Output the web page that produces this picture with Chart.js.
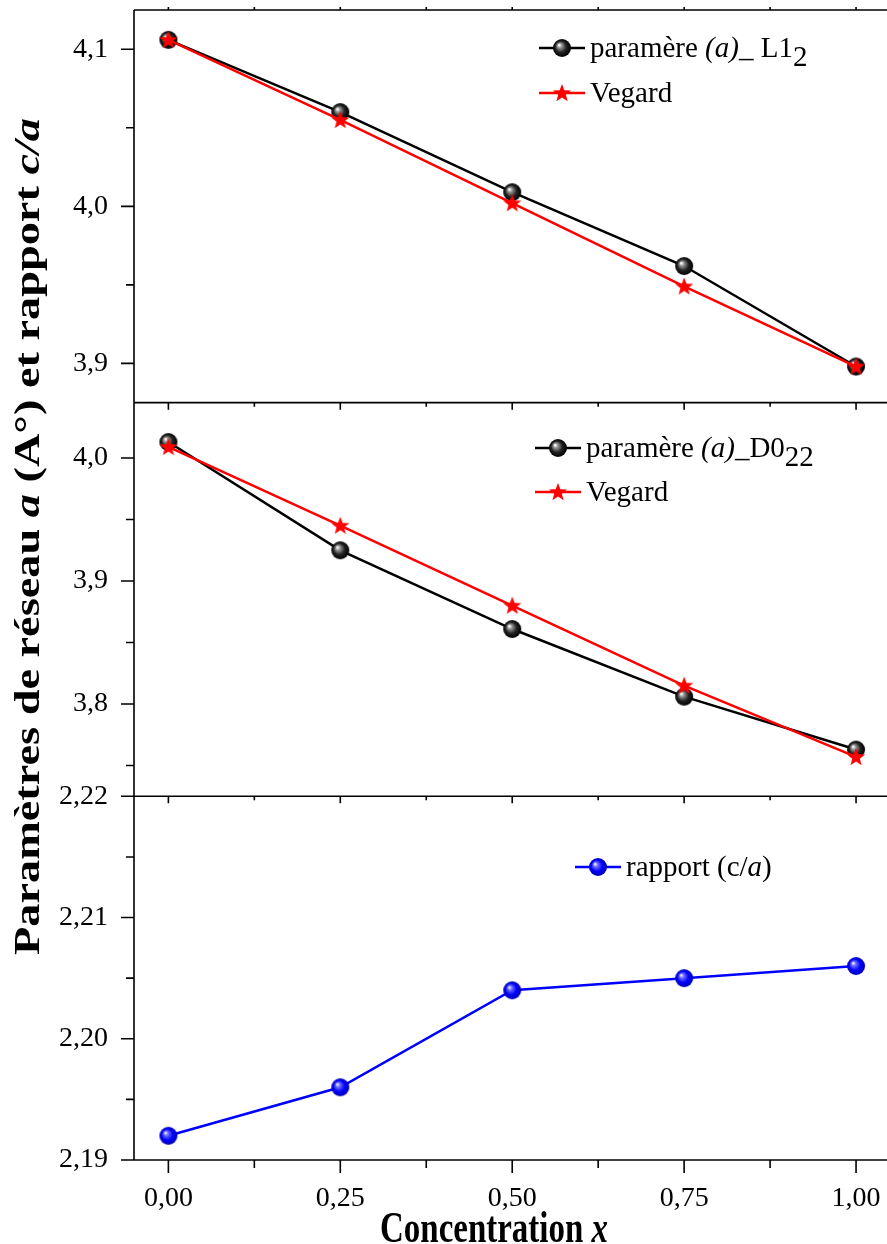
<!DOCTYPE html>
<html>
<head>
<meta charset="utf-8">
<script src="https://cdn.jsdelivr.net/npm/chart.js@4"></script>
<style>
  body { margin: 0; background: #fff; }
  canvas { display: block; }
</style>
</head>
<body>
<canvas id="chart" width="887" height="1244"></canvas>
<script>
// data
const xValues = [0, 0.25, 0.5, 0.75, 1];
const l12Param = [4.106, 4.060, 4.009, 3.962, 3.898];
const l12Vegard = [4.106, 4.055, 4.002, 3.949, 3.898];
const d022Param = [4.013, 3.925, 3.861, 3.806, 3.763];
const d022Vegard = [4.009, 3.945, 3.880, 3.815, 3.757];
const ratioCA = [2.192, 2.196, 2.204, 2.205, 2.206];

const xTicks = [0, 0.25, 0.5, 0.75, 1];
const xMinor = [0.125, 0.375, 0.625, 0.875];
const topTicks = [3.9, 4.0, 4.1];
const topMinor = [3.95, 4.05];
const midTicks = [3.8, 3.9, 4.0];
const midMinor = [3.75, 3.85, 3.95];
const botTicks = [2.19, 2.20, 2.21, 2.22];
const botMinor = [2.195, 2.205, 2.215];

const SERIF = '"Liberation Serif", "Times New Roman", serif';

function sphere(c0, c1, c2, c3) {
  const cv = document.createElement('canvas');
  cv.width = 20; cv.height = 20;
  const g = cv.getContext('2d');
  const grad = g.createRadialGradient(7, 7, 0.5, 10, 10, 9);
  grad.addColorStop(0, c0);
  grad.addColorStop(0.2, c1);
  grad.addColorStop(0.6, c2);
  grad.addColorStop(1, c3);
  g.fillStyle = grad;
  g.beginPath();
  g.arc(10, 10, 9, 0, Math.PI * 2);
  g.fill();
  return cv;
}

function star() {
  const cv = document.createElement('canvas');
  cv.width = 22; cv.height = 22;
  const g = cv.getContext('2d');
  g.fillStyle = '#ff0000';
  g.beginPath();
  for (let i = 0; i < 10; i++) {
    const r = i % 2 === 0 ? 9.5 : 4;
    const a = -Math.PI / 2 + i * Math.PI / 5;
    const px = 11 + r * Math.cos(a), py = 11.5 + r * Math.sin(a);
    if (i === 0) g.moveTo(px, py); else g.lineTo(px, py);
  }
  g.closePath();
  g.fill();
  return cv;
}

const blackBall = sphere('#ffffff', '#9a9a9a', '#222222', '#000000');
const blueBall = sphere('#e8e8ff', '#7070ff', '#0000ff', '#0000b0');
const redStar = star();

const pts = (ys) => xValues.map((x, i) => ({ x: x, y: ys[i] }));

function yScale(min, max, ticks, weight, digits) {
  return {
    type: 'linear',
    position: 'left',
    stack: 'panels',
    stackWeight: weight,
    min: min,
    max: max,
    grid: { display: false },
    border: { display: false },
    afterBuildTicks: (s) => { s.ticks = ticks.map(v => ({ value: v })); },
    afterFit: (s) => { s.width = 134; s.paddingTop = 0; s.paddingBottom = 0; },
    ticks: {
      padding: 18,
      color: '#000',
      font: { family: SERIF, size: 28 },
      callback: (v) => v.toFixed(digits).replace('.', ',')
    }
  };
}

const framePlugin = {
  id: 'frames',
  beforeDatasetsDraw(chart) {
    const ctx = chart.ctx;
    const area = chart.chartArea;
    const xs = chart.scales.x;
    const panels = [
      [chart.scales.yTop, topMinor],
      [chart.scales.yMid, midMinor],
      [chart.scales.yBot, botMinor]
    ];
    ctx.save();
    ctx.strokeStyle = '#000';
    ctx.lineWidth = 1.6;
    ctx.beginPath();
    ctx.moveTo(area.left, area.top);
    ctx.lineTo(area.right, area.top);
    ctx.moveTo(area.left, area.top);
    ctx.lineTo(area.left, area.bottom);
    panels.forEach(([s, minor]) => {
      ctx.moveTo(area.left, s.bottom);
      ctx.lineTo(area.right, s.bottom);
      // y ticks on the left
      s.ticks.forEach(t => {
        const y = s.getPixelForValue(t.value);
        ctx.moveTo(area.left - 13, y);
        ctx.lineTo(area.left, y);
      });
      minor.forEach(v => {
        const y = s.getPixelForValue(v);
        ctx.moveTo(area.left - 8, y);
        ctx.lineTo(area.left, y);
      });
      // x ticks below each panel
      const last = s === chart.scales.yBot;
      const maj = last ? 13 : 7;
      const mnr = last ? 8 : 4;
      xTicks.forEach(v => {
        const x = xs.getPixelForValue(v);
        ctx.moveTo(x, s.bottom);
        ctx.lineTo(x, s.bottom + maj);
      });
      xMinor.forEach(v => {
        const x = xs.getPixelForValue(v);
        ctx.moveTo(x, s.bottom);
        ctx.lineTo(x, s.bottom + mnr);
      });
    });
    // small ticks on top border
    xTicks.concat(xMinor).forEach(v => {
      const x = xs.getPixelForValue(v);
      ctx.moveTo(x, area.top);
      ctx.lineTo(x, area.top - 3);
    });
    ctx.stroke();
    ctx.restore();
  },
  afterDraw(chart) {
    const ctx = chart.ctx;
    ctx.save();
    ctx.fillStyle = '#000';

    // legends
    function row(x0, y, color, width, img, parts) {
      ctx.strokeStyle = color;
      ctx.lineWidth = width;
      ctx.beginPath();
      ctx.moveTo(x0, y);
      ctx.lineTo(x0 + 46, y);
      ctx.stroke();
      ctx.drawImage(img, x0 + 23 - img.width / 2, y - img.height / 2);
      let x = x0 + 51;
      parts.forEach(p => {
        ctx.font = (p.i ? 'italic ' : '') + '29px ' + SERIF;
        ctx.textBaseline = 'alphabetic';
        ctx.fillText(p.t, x, y + 9 + (p.dy || 0));
        x += ctx.measureText(p.t).width;
      });
    }
    row(539, 48, '#000', 2.5, blackBall, [{ t: 'paramère ' }, { t: '(a)', i: true }, { t: '_ L1' }, { t: '2', dy: 9 }]);
    row(539, 93, '#ff0000', 2.5, redStar, [{ t: 'Vegard' }]);
    row(535, 448, '#000', 2.5, blackBall, [{ t: 'paramère ' }, { t: '(a)', i: true }, { t: '_D0' }, { t: '22', dy: 9 }]);
    row(535, 492, '#ff0000', 2.5, redStar, [{ t: 'Vegard' }]);
    row(575, 867, '#0000ff', 2.5, blueBall, [{ t: 'rapport (c/' }, { t: 'a', i: true }, { t: ')' }]);

    // x title
    const xt = [{ t: 'Concentration ' }, { t: 'x', i: true }];
    let wx = 0;
    xt.forEach(p => { ctx.font = (p.i ? 'italic ' : '') + 'bold 44px ' + SERIF; wx += ctx.measureText(p.t).width; });
    const sx = 228 / wx;
    ctx.save();
    ctx.translate(380, 1242);
    ctx.scale(sx, 1);
    let cx = 0;
    xt.forEach(p => {
      ctx.font = (p.i ? 'italic ' : '') + 'bold 44px ' + SERIF;
      ctx.fillText(p.t, cx, 0);
      cx += ctx.measureText(p.t).width;
    });
    ctx.restore();

    // y title
    const yt = [{ t: 'Paramètres de réseau ' }, { t: 'a', i: true }, { t: ' (A°) et rapport ' }, { t: 'c/a', i: true }];
    let wy = 0;
    yt.forEach(p => { ctx.font = (p.i ? 'italic ' : '') + 'bold 35px ' + SERIF; wy += ctx.measureText(p.t).width; });
    const sy = 837 / wy;
    ctx.save();
    ctx.translate(39, 955);
    ctx.rotate(-Math.PI / 2);
    ctx.scale(sy, 1);
    let cy = 0;
    yt.forEach(p => {
      ctx.font = (p.i ? 'italic ' : '') + 'bold 35px ' + SERIF;
      ctx.fillText(p.t, cy, 0);
      cy += ctx.measureText(p.t).width;
    });
    ctx.restore();

    ctx.restore();
  }
};

new Chart(document.getElementById('chart'), {
  type: 'line',
  data: {
    datasets: [
      { label: 'Vegard L12', data: pts(l12Vegard), yAxisID: 'yTop', borderColor: '#ff0000', borderWidth: 2.5, pointStyle: redStar, order: 1 },
      { label: 'paramère (a)_ L12', data: pts(l12Param), yAxisID: 'yTop', borderColor: '#000', borderWidth: 2.5, pointStyle: blackBall, order: 2 },
      { label: 'Vegard D022', data: pts(d022Vegard), yAxisID: 'yMid', borderColor: '#ff0000', borderWidth: 2.5, pointStyle: redStar, order: 1 },
      { label: 'paramère (a)_D022', data: pts(d022Param), yAxisID: 'yMid', borderColor: '#000', borderWidth: 2.5, pointStyle: blackBall, order: 2 },
      { label: 'rapport (c/a)', data: pts(ratioCA), yAxisID: 'yBot', borderColor: '#0000ff', borderWidth: 2.5, pointStyle: blueBall, order: 1 }
    ]
  },
  options: {
    responsive: false,
    animation: false,
    events: [],
    layout: { autoPadding: false, padding: { top: 10, right: 0, bottom: 0, left: 0 } },
    elements: { line: { tension: 0 }, point: { radius: 9 } },
    plugins: { legend: { display: false }, tooltip: { enabled: false } },
    scales: {
      x: {
        type: 'linear',
        min: -0.05,
        max: 1.045,
        grid: { display: false },
        border: { display: false },
        afterBuildTicks: (s) => { s.ticks = xTicks.map(v => ({ value: v })); },
        afterFit: (s) => { s.height = 84; s.paddingLeft = 0; s.paddingRight = 0; },
        ticks: {
          padding: 14,
          color: '#000',
          maxRotation: 0,
          font: { family: SERIF, size: 28 },
          callback: (v) => v.toFixed(2).replace('.', ',')
        }
      },
      yBot: yScale(2.19, 2.22, botTicks, 364, 2),
      yMid: yScale(3.725, 4.045, midTicks, 394, 1),
      yTop: yScale(3.875, 4.125, topTicks, 393, 1)
    }
  },
  plugins: [framePlugin]
});
</script>
</body>
</html>
